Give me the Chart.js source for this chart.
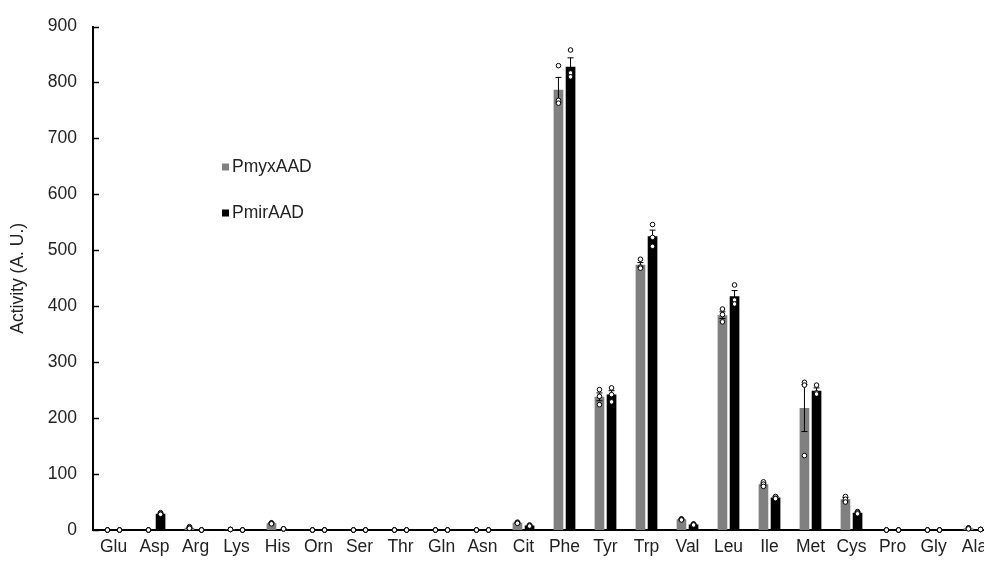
<!DOCTYPE html>
<html>
<head>
<meta charset="utf-8">
<script src="https://cdn.jsdelivr.net/npm/chart.js@4.4.1/dist/chart.umd.min.js"></script>
<style>
  html, body { margin: 0; padding: 0; background: #fff; overflow: hidden; }
  #wrap { width: 1010px; height: 564px; position: relative; }
</style>
</head>
<body>
<div id="wrap"><canvas id="myChart"></canvas></div>
<script>
const categories = ['Glu', 'Asp', 'Arg', 'Lys', 'His', 'Orn', 'Ser', 'Thr', 'Gln', 'Asn', 'Cit',
    'Phe', 'Tyr', 'Trp', 'Val', 'Leu', 'Ile', 'Met', 'Cys', 'Pro', 'Gly', 'Ala'];

// PmyxAAD
const pmyxMean = [0, 0, 4, 1, 12, 0, 0, 0, 0, 0, 13, 787, 238, 474, 19, 384, 82, 218, 55, 0, 0, 3];
const pmyxErr  = [0, 0, 1, 0, 1, 0, 0, 0, 0, 0, 1, 22, 7, 4, 1, 6, 2, 42, 3, 0, 0, 0];
const pmyxPts  = [[0, 0, 0], [0, 0, 0], [6, 4, 3], [1, 1, 1], [13, 12, 11], [0, 0, 0], [0, 0, 0],
    [0, 0, 0], [0, 0, 0], [0, 0, 0], [14, 13, 12], [830, 768, 763], [251, 239, 224],
    [484, 470, 468], [20, 19, 18], [395, 385, 372], [86, 82, 78], [264, 259, 133],
    [60, 55, 50], [0, 0, 0], [0, 0, 0], [4, 3, 2]];

// PmirAAD
const pmirMean = [0, 29, 0, 0, 2, 0, 0, 0, 0, 0, 8, 828, 242, 525, 10, 418, 58, 249, 31, 0, 0, 1];
const pmirErr  = [0, 1, 0, 0, 0, 0, 0, 0, 0, 0, 1, 16, 7, 11, 1, 10, 2, 5, 1, 0, 0, 0];
const pmirPts  = [[0, 0, 0], [31, 29, 28], [0, 0, 0], [0, 0, 0], [2, 2, 2], [0, 0, 0], [0, 0, 0],
    [0, 0, 0], [0, 0, 0], [0, 0, 0], [9, 8, 7], [858, 817, 810], [254, 242, 229],
    [546, 523, 507], [11, 10, 9], [438, 411, 404], [60, 57, 56], [259, 245, 243],
    [33, 31, 29], [0, 0, 0], [0, 0, 0], [1, 1, 1]];

const yTicks = [0, 100, 200, 300, 400, 500, 600, 700, 800, 900];

const seriesNames = ['PmyxAAD', 'PmirAAD'];
const seriesColors = ['#808080', '#000000'];
const errs = [pmyxErr, pmirErr];
const pts = [pmyxPts, pmirPts];

const FONT = "'Liberation Sans', Arial, sans-serif";
const ctx = document.getElementById('myChart');

// error bars, replicate dots, inward y ticks and legend
const extras = {
    id: 'extras',
    afterDatasetsDraw(chart) {
        const c = chart.ctx;
        const y = chart.scales.y;
        c.save();
        c.strokeStyle = '#000';
        c.lineWidth = 1;
        chart.data.datasets.forEach((ds, i) => {
            const meta = chart.getDatasetMeta(i);
            meta.data.forEach((bar, j) => {
                const m = ds.data[j];
                const e = errs[i][j];
                if (e > 0) {
                    const yt = y.getPixelForValue(m + e);
                    const yb = y.getPixelForValue(m - e);
                    c.beginPath();
                    c.moveTo(bar.x, yt); c.lineTo(bar.x, yb);
                    c.moveTo(bar.x - 3, yt); c.lineTo(bar.x + 3, yt);
                    c.moveTo(bar.x - 3, yb); c.lineTo(bar.x + 3, yb);
                    c.stroke();
                }
            });
        });
        chart.data.datasets.forEach((ds, i) => {
            const meta = chart.getDatasetMeta(i);
            meta.data.forEach((bar, j) => {
                pts[i][j].forEach(v => {
                    c.beginPath();
                    c.arc(bar.x, y.getPixelForValue(v), 2.3, 0, Math.PI * 2);
                    c.fillStyle = '#fff';
                    c.fill();
                    c.stroke();
                });
            });
        });
        // inward tick marks
        c.lineWidth = 1.5;
        yTicks.forEach(t => {
            const py = Math.round(y.getPixelForValue(t)) + 0.5;
            c.beginPath();
            c.moveTo(y.right, py);
            c.lineTo(y.right + 6, py);
            c.stroke();
        });
        // legend
        const legendPos = [[222, 167], [222, 213]];
        c.font = '17.5px ' + FONT;
        c.textBaseline = 'middle';
        c.textAlign = 'left';
        seriesNames.forEach((name, i) => {
            const [lx, ly] = legendPos[i];
            c.fillStyle = seriesColors[i];
            c.fillRect(lx, ly - 3.5, 7, 7);
            c.fillStyle = '#222';
            c.fillText(name, lx + 10, ly);
        });
        c.restore();
    }
};

new Chart(ctx, {
    type: 'bar',
    data: {
        labels: categories,
        datasets: seriesNames.map((name, i) => ({
            label: name,
            data: i === 0 ? pmyxMean : pmirMean,
            backgroundColor: seriesColors[i],
            borderWidth: 0,
            categoryPercentage: 0.59,
            barPercentage: 0.8
        }))
    },
    options: {
        responsive: true,
        maintainAspectRatio: false,
        animation: false,
        layout: { padding: { left: 0, top: 20, right: 15, bottom: 0 } },
        plugins: {
            legend: { display: false },
            tooltip: { enabled: false }
        },
        scales: {
            x: {
                grid: { display: false, drawTicks: false },
                border: { display: true, color: '#000', width: 2 },
                ticks: {
                    color: '#222',
                    padding: 7,
                    maxRotation: 0,
                    autoSkip: false,
                    font: { family: FONT, size: 17.5 }
                },
                afterFit: s => { s.height = 34; }
            },
            y: {
                min: 0,
                max: 900,
                afterBuildTicks: s => { s.ticks = yTicks.map(v => ({ value: v })); },
                grid: { display: false, drawTicks: false },
                border: { display: true, color: '#000', width: 2 },
                ticks: {
                    color: '#222',
                    padding: 16,
                    font: { family: FONT, size: 17.5 }
                },
                title: {
                    display: true,
                    text: 'Activity (A. U.)',
                    color: '#222',
                    padding: { top: 8, bottom: 0 },
                    font: { family: FONT, size: 17.5 }
                },
                afterFit: s => { s.width = 93; }
            }
        }
    },
    plugins: [extras]
});
</script>
</body>
</html>
